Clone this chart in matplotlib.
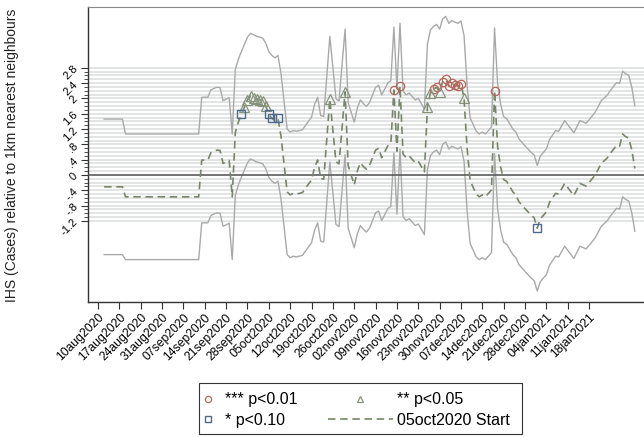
import matplotlib
matplotlib.use("Agg")
import matplotlib.pyplot as plt
from matplotlib.patches import Rectangle
import numpy as np

plt.rcParams['font.family'] = ['Liberation Sans', 'DejaVu Sans']

# days since 10aug2020
days = [2, 8, 9, 33, 34, 36, 37, 38, 39, 40, 41, 42, 43, 44, 45, 46, 47, 48, 49, 50,
        51, 52, 53, 54, 55, 56, 57, 58, 59, 60, 62, 63, 64, 65, 67, 68, 70, 71, 72, 73,
        74, 76, 78, 79, 81, 82, 84, 85, 86, 87, 88, 89, 90, 91, 92, 93, 95, 96, 97, 98,
        99, 100, 101, 102, 104, 105, 107, 108, 109, 110, 111, 112, 113, 114, 115, 116, 117, 118, 119, 120,
        121, 122, 124, 125, 126, 127, 128, 129, 130, 131, 132, 133, 134, 136, 137, 138, 140, 142, 143, 144,
        145, 147, 148, 150, 151, 153, 156, 158, 160, 161, 163, 165, 167, 168, 170, 171, 172, 173, 174, 175,
        176]
est = [-0.31, -0.31, -0.57, -0.57, 0.39, 0.39, 0.58, 0.62, 0.65, 0.64, 0.30, 0.34, 0.38, -0.57, 1.11, 1.38, 1.58, 1.77, 1.96, 2.06,
       2.02, 1.98, 1.96, 1.93, 1.80, 1.58, 1.48, 1.42, 1.48, 1.00, -0.44, -0.52, -0.48, -0.50, -0.46, -0.35, -0.13, 0.20, 0.39, -0.09,
       -0.11, 1.98, 0.35, 0.29, 2.17, 0.25, -0.26, 0.10, 0.32, 0.22, 0.15, 0.25, 0.45, 0.65, 0.70, 0.45, 0.76, 0.82, 2.22, 0.62,
       2.32, 0.55, 0.45, 0.50, 0.32, 0.36, 0.08, 1.78, 2.15, 2.24, 2.29, 2.17, 2.44, 2.50, 2.32, 2.39, 2.35, 2.32, 2.38, 2.00,
       0.70, -0.15, -0.50, -0.57, -0.52, -0.57, -0.48, -0.39, 2.20, 0.75, 0.20, -0.12, -0.17, -0.44, -0.52, -0.70, -0.88, -1.05, -1.12, -1.39,
       -1.15, -0.96, -0.72, -0.48, -0.50, -0.22, -0.54, -0.22, -0.29, -0.20, 0.00, 0.30, 0.45, 0.57, 0.77, 0.75, 1.07, 1.00, 0.96, 0.65,
       0.17]
# 95% CI half width
ci_half = [1.77, 1.77] + [1.64] * (len(days) - 2)

# significance markers (days since 10aug2020)
sig01_days = [97, 99, 110, 111, 113, 114, 115, 116, 117, 118, 119, 130]
sig05_days = [48, 49, 50, 51, 52, 53, 54, 55, 76, 81, 108, 109, 112, 120]
sig10_days = [47, 56, 57, 59, 144]

tick_days = list(range(0, 162, 7))
tick_labels = ["10aug2020", "17aug2020", "24aug2020", "31aug2020", "07sep2020", "14sep2020",
               "21sep2020", "28sep2020", "05oct2020", "12oct2020", "19oct2020", "26oct2020",
               "02nov2020", "09nov2020", "16nov2020", "23nov2020", "30nov2020", "07dec2020",
               "14dec2020", "21dec2020", "28dec2020", "04jan2021", "11jan2021", "18jan2021"]
ytick_vals = [-1.2, -0.8, -0.4, 0, 0.4, 0.8, 1.2, 1.6, 2, 2.4, 2.8]
ytick_labels = ["-1.2", "-.8", "-.4", "0", ".4", ".8", "1.2", "1.6", "2", "2.4", "2.8"]

x = np.array(days)
y = np.array(est)
hw = np.array(ci_half)
lookup = dict(zip(days, est))

fig = plt.figure(figsize=(6.44, 4.37), dpi=100)
ax = fig.add_axes([0.1366, 0.309, 0.8634, 0.675])

# horizontal grid every 0.1
for g in np.arange(-12, 29) / 10:
    ax.axhline(g, color="#e1e3e3", lw=1.3, zorder=0)

ax.plot(x, y + hw, color="#a9a9a9", lw=1.0, zorder=2)
ax.plot(x, y - hw, color="#a9a9a9", lw=1.0, zorder=2)
ax.axhline(0, color="#555555", lw=1.1, zorder=3)
est_line, = ax.plot(x, y, color="#76866a", lw=1.2, dashes=(4.5, 2.8), zorder=4)

c = ax.plot(sig01_days, [lookup[d] for d in sig01_days], "o", ms=6, mfc="none",
            mec="#b5675b", mew=0.9, ls="none", zorder=5)[0]
t = ax.plot(sig05_days, [lookup[d] for d in sig05_days], "^", ms=6.5, mfc="none",
            mec="#86937a", mew=0.9, ls="none", zorder=5)[0]
s = ax.plot(sig10_days, [lookup[d] for d in sig10_days], "s", ms=6, mfc="none",
            mec="#4d6a8c", mew=1.0, ls="none", zorder=5)[0]

ax.set_xlim(-3.3, 179)
ax.set_ylim(-3.316, 4.386)
ax.set_xticks(tick_days)
ax.set_xticklabels(tick_labels, rotation=45, ha="right", rotation_mode="anchor", fontsize=8.7)
ax.set_yticks(ytick_vals)
ax.set_yticklabels(ytick_labels, rotation=45, fontsize=8)
ax.set_yticks(np.arange(-12, 29) / 10, minor=True)
ax.tick_params(axis="x", length=5, width=0.8, color="#333333", pad=2)
ax.tick_params(axis="y", which="major", length=5, width=0.8, color="#333333", pad=1)
ax.tick_params(axis="y", which="minor", length=3, width=0.6, color="#333333")
for side in ["left", "bottom"]:
    ax.spines[side].set_color("#333333")
    ax.spines[side].set_linewidth(1.0)
ax.spines["top"].set_color("#888888")
ax.spines["right"].set_visible(False)

fig.text(0.019, 0.645, "IHS (Cases) relative to 1km nearest neighbours", rotation=90,
         ha="center", va="center", fontsize=10, color="#222222")

# legend: two columns with different key widths, inside one box
fs = 11.5
yc = 1 - 410 / 437
fig.legend([c, s], ["*** p<0.01", "* p<0.10"], loc="center left",
           bbox_to_anchor=(200 / 644, yc), fontsize=fs, frameon=False,
           handlelength=1.0, handletextpad=0.55, borderpad=0, borderaxespad=0,
           labelspacing=0.35, markerscale=0.75)
fig.legend([t, est_line], ["** p<0.05", "05oct2020 Start"], loc="center left",
           bbox_to_anchor=(328 / 644, yc), fontsize=fs, frameon=False,
           handlelength=4.06, handletextpad=0.25, borderpad=0, borderaxespad=0,
           labelspacing=0.35, markerscale=0.75)
fig.patches.append(Rectangle((199 / 644, 1 - 434 / 437), (522 - 199) / 644, 51 / 437,
                             transform=fig.transFigure, fill=False, edgecolor="#333333",
                             lw=0.8))

fig.savefig("out.png", dpi=100)
